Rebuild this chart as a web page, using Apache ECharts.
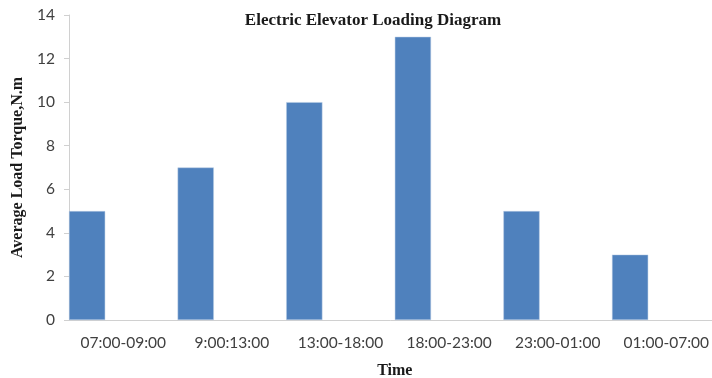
<!DOCTYPE html>
<html>
<head>
<meta charset="utf-8">
<script src="https://cdn.jsdelivr.net/npm/echarts@6/dist/echarts.min.js"></script>
<style>html,body{margin:0;padding:0;background:#fff}#c{width:712px;height:378px}</style>
</head>
<body>
<div id="c"></div>
<script>
const categories = ['07:00-09:00', '9:00:13:00', '13:00-18:00', '18:00-23:00', '23:00-01:00', '01:00-07:00'];
const torque = [5, 7, 10, 13, 5, 3];
const emptyA = [null, null, null, null, null, null];
const emptyB = [null, null, null, null, null, null];
const yTicks = { min: 0, max: 14, interval: 2 };

const chart = echarts.init(document.getElementById('c'), null, { renderer: 'canvas' });
chart.setOption({
  animation: false,
  backgroundColor: '#fff',
  title: {
    text: 'Electric Elevator Loading Diagram',
    left: 368, top: 7, textAlign: 'center',
    textStyle: { fontFamily: 'Liberation Serif', fontWeight: 'bold', fontSize: 17, color: '#1a1a1a' }
  },
  grid: { left: 69, top: 15, width: 651.6, height: 305, containLabel: false, outerBoundsMode: 'none' },
  xAxis: {
    type: 'category', data: categories,
    name: 'Time', nameLocation: 'middle', nameGap: 43,
    nameTextStyle: { fontFamily: 'Liberation Serif', fontWeight: 'bold', fontSize: 16, color: '#1a1a1a' },
    axisLine: { lineStyle: { color: '#d0d0d0', width: 1 } },
    axisTick: { show: false },
    axisLabel: { interval: 0, hideOverlap: false, fontFamily: 'Lato', fontSize: 15.5, color: '#404040', margin: 15 }
  },
  yAxis: {
    type: 'value', min: yTicks.min, max: yTicks.max, interval: yTicks.interval,
    name: 'Average Load Torque,N.m', nameLocation: 'middle', nameGap: 37, nameRotate: 90,
    nameTextStyle: { fontFamily: 'Liberation Serif', fontWeight: 'bold', fontSize: 16, color: '#1a1a1a' },
    axisLine: { show: true, lineStyle: { color: '#d0d0d0', width: 1 } },
    axisTick: { show: true, length: 5, lineStyle: { color: '#d0d0d0' } },
    splitLine: { show: false },
    axisLabel: { fontFamily: 'Lato', fontSize: 15.5, color: '#404040', margin: 14 }
  },
  series: [
    { type: 'bar', data: torque, barGap: '0%', barCategoryGap: '0%',
      itemStyle: { color: '#4f81bd', borderColor: '#b9cde5', borderWidth: 0.5 } },
    { type: 'bar', data: emptyA },
    { type: 'bar', data: emptyB }
  ]
});
</script>
</body>
</html>
